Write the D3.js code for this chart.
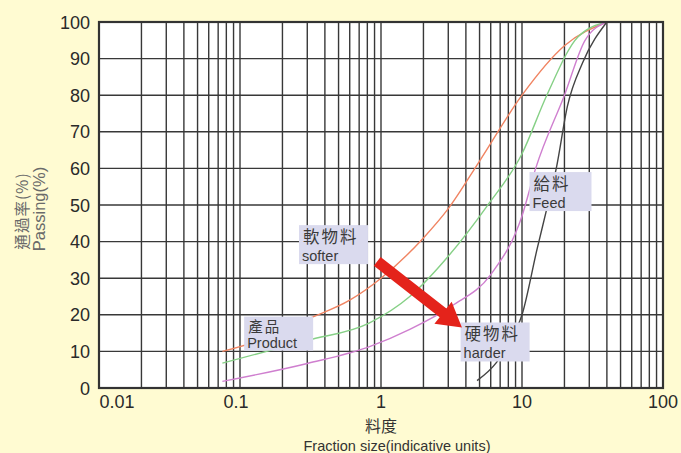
<!DOCTYPE html>
<html><head><meta charset="utf-8">
<script src="https://cdn.jsdelivr.net/npm/d3@7"></script>
<style>
html,body{margin:0;padding:0;background:#fffbd2;}
svg{display:block;font-family:"Liberation Sans",Arial,sans-serif;}
</style></head>
<body>
<svg id="chart" width="681" height="453"></svg>
<script>
// ---- data ----
const xTickValues = [0.01, 0.1, 1, 10, 100];
const xTickLabels = ["0.01", "0.1", "1", "10", "100"];
const yTickValues = [0, 10, 20, 30, 40, 50, 60, 70, 80, 90, 100];

const softerSize = [0.075, 0.15, 0.31, 0.6, 1, 2, 3, 5, 10, 20, 40];
const softerPass = [10, 13.5, 19, 24, 30, 41, 49, 62, 80, 93.5, 100];

const mediumSize = [0.075, 0.3, 0.83, 1.6, 3, 5.6, 10, 15, 25, 40];
const mediumPass = [6.8, 13, 17.8, 25, 36, 49.5, 64, 80, 96, 100];

const harderSize = [0.075, 0.3, 0.83, 1.6, 3.2, 6, 10, 12.5, 20, 28, 40];
const harderPass = [1.8, 6.7, 11.3, 16, 22.5, 31, 47, 60, 80, 95, 100];

const feedSize = [4.8, 6.6, 8, 10, 12.8, 15, 17.5, 21, 27, 40];
const feedPass = [2, 7, 12, 20, 38, 49, 60, 77, 89, 100];

const seriesNames = ["softer", "medium", "harder", "feed"];
const seriesColors = ["#f08462", "#86d086", "#cf7fcf", "#444444"];

// label annotations (anchor = top-left of box in data coords)
const noteTitles = ["軟物料", "產品", "硬物料", "給料"];
const noteSubs = ["softer", "Product", "harder", "Feed"];
const noteSize = [0.262, 0.107, 3.67, 11.3];
const notePass = [44.5, 19.5, 17.9, 59];

// arrow (data coords)
const arrowFrom = [0.94, 34.6];
const arrowTo = [3.75, 16.5];

// ---- layout ----
const svg = d3.select("#chart");
const pLeft = 99, pRight = 663, pTop = 22, pBottom = 388;
const cjk = "'Noto Sans CJK TC','Noto Sans CJK SC',sans-serif";

const x = d3.scaleLog().domain([0.01, 100]).range([pLeft, pRight]);
const y = d3.scaleLinear().domain([0, 100]).range([pBottom, pTop]);

// plot background
svg.append("rect").attr("x", pLeft).attr("y", pTop)
  .attr("width", pRight - pLeft).attr("height", pBottom - pTop).attr("fill", "#ffffff");

// vertical grid (log 1..9 per decade)
const vGrid = [];
for (let d = -2; d < 2; d++) for (let k = 1; k <= 9; k++) vGrid.push(k * Math.pow(10, d));
const g = svg.append("g");
g.selectAll("line.v").data(vGrid.filter(v => v > 0.01)).join("line").attr("class", "v")
  .attr("x1", d => x(d)).attr("x2", d => x(d)).attr("y1", pTop).attr("y2", pBottom)
  .attr("stroke", "#383838").attr("stroke-width", 1.4);
g.selectAll("line.h").data(yTickValues.filter(v => v > 0 && v < 100)).join("line").attr("class", "h")
  .attr("x1", pLeft).attr("x2", pRight).attr("y1", d => y(d)).attr("y2", d => y(d))
  .attr("stroke", "#383838").attr("stroke-width", 1.4);

// curves
const allSeries = [
  softerSize.map((s, i) => [s, softerPass[i]]),
  mediumSize.map((s, i) => [s, mediumPass[i]]),
  harderSize.map((s, i) => [s, harderPass[i]]),
  feedSize.map((s, i) => [s, feedPass[i]])
];
const line = d3.line().x(d => x(d[0])).y(d => y(d[1])).curve(d3.curveMonotoneX);
svg.append("g").selectAll("path").data(allSeries).join("path")
  .attr("d", line).attr("fill", "none")
  .attr("stroke", (d, i) => seriesColors[i]).attr("stroke-width", 1.4);

// frame
svg.append("rect").attr("x", pLeft).attr("y", pTop)
  .attr("width", pRight - pLeft).attr("height", pBottom - pTop)
  .attr("fill", "none").attr("stroke", "#333").attr("stroke-width", 2.2);

// axis tick labels
const xOffsets = [18, -4, 0, 0, 0];
svg.append("g").selectAll("text").data(xTickValues).join("text")
  .attr("x", (d, i) => x(d) + xOffsets[i]).attr("y", 408)
  .attr("text-anchor", "middle").attr("font-size", 18).attr("fill", "#2a2a2a")
  .text((d, i) => xTickLabels[i]);
svg.append("g").selectAll("text").data(yTickValues).join("text")
  .attr("x", 90).attr("y", d => y(d) + 6.5)
  .attr("text-anchor", "end").attr("font-size", 18).attr("fill", "#2a2a2a")
  .text(d => d);

// axis titles
svg.append("text").attr("x", x(1)).attr("y", 432).attr("text-anchor", "middle")
  .attr("font-size", 16).attr("fill", "#333")
  .attr("font-family", cjk).text("料度");
svg.append("text").attr("x", x(1) + 16).attr("y", 451).attr("text-anchor", "middle")
  .attr("font-size", 14.5).attr("fill", "#333").text("Fraction size(indicative units)");

const yt = svg.append("g").attr("transform", "translate(28,211) rotate(-90)");
yt.append("text").attr("x", 0).attr("y", 0).attr("text-anchor", "middle")
  .attr("font-size", 15.5).attr("fill", "#6a6a6a").attr("letter-spacing", 1)
  .attr("font-family", cjk).text("通過率(%)");
yt.append("text").attr("x", 2).attr("y", 17).attr("text-anchor", "middle")
  .attr("font-size", 16.5).attr("fill", "#6a6a6a").text("Passing(%)");

// label boxes
const notes = svg.append("g");
noteTitles.forEach((t, i) => {
  const bx = x(noteSize[i]), by = y(notePass[i]);
  const sub = notes.append("g").attr("transform", `translate(${bx},${by})`);
  const w = (i === 3) ? 62 : 69;
  const h = (i === 1) ? 34 : 39;
  sub.append("rect").attr("width", w).attr("height", h).attr("fill", "#dadaee");
  sub.append("text").attr("x", 4).attr("y", i === 1 ? 15 : 18)
    .attr("font-size", i === 1 ? 14.5 : 16.5).attr("fill", "#3a3a3a")
    .attr("letter-spacing", 2)
    .attr("font-family", cjk).text(t);
  sub.append("text").attr("x", 3).attr("y", h - 3).attr("font-size", 14.5).attr("fill", "#3a3a3a")
    .text(noteSubs[i]);
});

// arrow
const ax0 = x(arrowFrom[0]), ay0 = y(arrowFrom[1]);
const ax1 = x(arrowTo[0]), ay1 = y(arrowTo[1]);
const ang = Math.atan2(ay1 - ay0, ax1 - ax0);
const len = Math.hypot(ax1 - ax0, ay1 - ay0);
const shaftW = 11, headW = 28, headL = 24;
const pts = [
  [0, -shaftW / 2], [len - headL, -shaftW / 2], [len - headL, -headW / 2], [len, 0],
  [len - headL, headW / 2], [len - headL, shaftW / 2], [0, shaftW / 2]
];
svg.append("polygon")
  .attr("points", pts.map(p => p.join(",")).join(" "))
  .attr("transform", `translate(${ax0},${ay0}) rotate(${ang * 180 / Math.PI})`)
  .attr("fill", "#e4231b");
</script>
</body></html>
